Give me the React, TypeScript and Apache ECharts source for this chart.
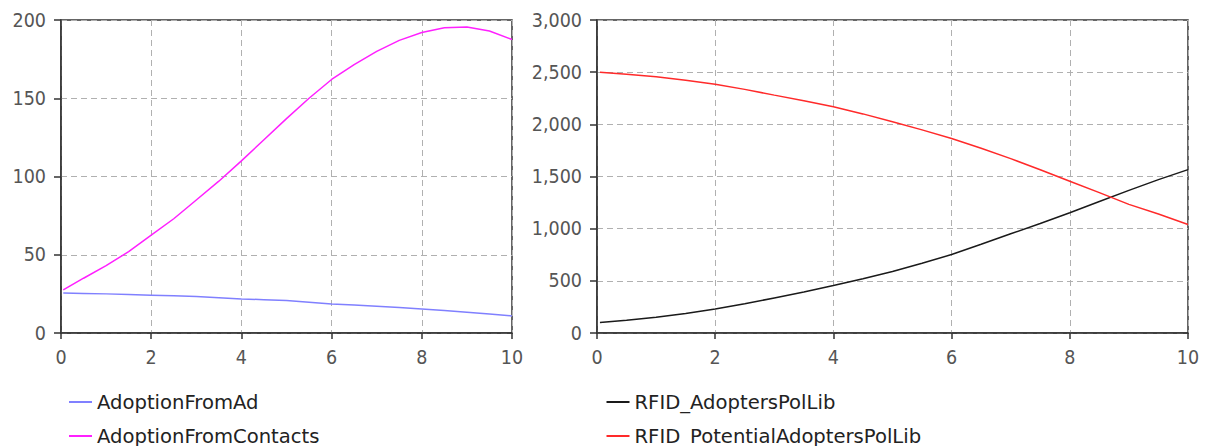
import React, { useEffect, useRef } from "react";
import * as echarts from "echarts";

const timeValues = [0.05, 0.5, 1, 1.5, 2, 2.5, 3, 3.5, 4, 4.5, 5, 5.5, 6, 6.5, 7, 7.5, 8, 8.5, 9, 9.5, 10];

const adoptionFromAd = [25.5, 25.3, 25, 24.6, 24.2, 23.8, 23.3, 22.6, 21.8, 21.3, 20.7, 19.7, 18.6, 17.9, 17.1, 16.3, 15.4, 14.4, 13.3, 12.1, 10.9];
const adoptionFromContacts = [27.5, 35, 43, 52, 62.5, 73, 85, 97, 110, 123.5, 137, 150, 162, 171.5, 180, 187, 192, 195, 195.5, 193, 187.5];

const adoptersPolLib = [100, 122, 150, 188, 230, 280, 336, 392, 455, 520, 589, 668, 752, 850, 951, 1050, 1153, 1260, 1367, 1470, 1566];
const potentialAdoptersPolLib = [2500, 2480, 2456, 2423, 2385, 2335, 2280, 2227, 2168, 2100, 2024, 1947, 1864, 1770, 1671, 1565, 1454, 1345, 1233, 1140, 1040];

const leftNames = ["AdoptionFromAd", "AdoptionFromContacts"];
const rightNames = ["RFID_AdoptersPolLib", "RFID_PotentialAdoptersPolLib"];

const pair = (ys: number[]) => ys.map((y, i) => [timeValues[i], y]);

const AXIS_FONT = "'DejaVu Sans Condensed', 'Liberation Sans', sans-serif";
const LEGEND_FONT = "'DejaVu Sans', sans-serif";
const FRAME = "#333333";

function xAxis(gridIndex: number) {
  return {
    type: "value",
    gridIndex,
    min: 0,
    max: 10,
    interval: 2,
    axisLine: { show: true, lineStyle: { color: FRAME, width: 1.5 } },
    axisTick: { show: true, length: 6, lineStyle: { color: FRAME, width: 1.5 } },
    axisLabel: { color: "#555", fontFamily: AXIS_FONT, fontSize: 19.5, margin: 14 },
    splitLine: { show: true, lineStyle: { color: "#b0b0b0", type: [6, 4], width: 1 } },
  };
}

function yAxis(gridIndex: number, max: number, interval: number, fmt?: (v: number) => string) {
  return {
    type: "value",
    gridIndex,
    min: 0,
    max,
    interval,
    axisLine: { show: true, lineStyle: { color: FRAME, width: 1.5 } },
    axisTick: { show: true, length: 7, lineStyle: { color: FRAME, width: 1.5 } },
    axisLabel: {
      color: "#555",
      fontFamily: AXIS_FONT,
      fontSize: 19.5,
      margin: 15,
      padding: [3, 0, 0, 0],
      formatter: fmt,
    },
    splitLine: { show: true, lineStyle: { color: "#b0b0b0", type: [6, 4], width: 1 } },
  };
}

function lineSeries(name: string, data: number[], color: string, idx: number) {
  return {
    name,
    type: "line",
    xAxisIndex: idx,
    yAxisIndex: idx,
    data: pair(data),
    showSymbol: false,
    symbol: "none",
    lineStyle: { color, width: 1.5 },
    itemStyle: { color },
  };
}

function legend(names: string[], left: number) {
  return {
    data: names,
    orient: "vertical",
    left,
    top: 392,
    height: 60,
    padding: 0,
    icon: "rect",
    itemWidth: 23,
    itemHeight: 2,
    itemGap: 14,
    textStyle: { color: "#222", fontFamily: LEGEND_FONT, fontSize: 19.6, lineHeight: 20 },
    selectedMode: false,
  };
}

export default function App() {
  const ref = useRef<HTMLDivElement>(null);
  useEffect(() => {
    document.body.style.margin = "0";
    if (!ref.current) return;
    const chart = echarts.init(ref.current, undefined, { renderer: "svg" });
    chart.setOption({
      animation: false,
      backgroundColor: "#ffffff",
      grid: [
        { left: 61, right: 698, top: 20, bottom: 113, show: true, borderColor: FRAME, borderWidth: 1.5 },
        { left: 597, right: 22, top: 20, bottom: 113, show: true, borderColor: FRAME, borderWidth: 1.5 },
      ],
      xAxis: [xAxis(0), xAxis(1)],
      yAxis: [
        yAxis(0, 200, 50),
        yAxis(1, 3000, 500, (v: number) => v.toLocaleString("en-US")),
      ],
      legend: [legend(leftNames, 69), legend(rightNames, 606.5)],
      series: [
        lineSeries(leftNames[0], adoptionFromAd, "#8080ff", 0),
        lineSeries(leftNames[1], adoptionFromContacts, "#ff20ff", 0),
        lineSeries(rightNames[0], adoptersPolLib, "#1a1a1a", 1),
        lineSeries(rightNames[1], potentialAdoptersPolLib, "#ff2a2a", 1),
      ],
    });
    return () => chart.dispose();
  }, []);
  return <div ref={ref} style={{ width: 1210, height: 446 }} />;
}
